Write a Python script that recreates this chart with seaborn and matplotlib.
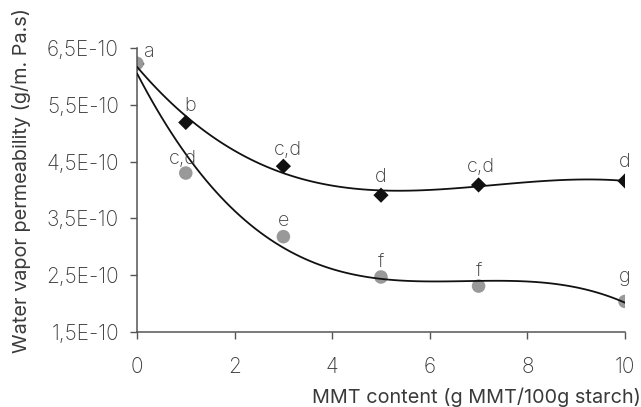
import matplotlib
matplotlib.use("Agg")
import matplotlib.pyplot as plt
import seaborn as sns
import pandas as pd
import numpy as np

# MMT content (g MMT/100g starch)
mmt = [0, 1, 3, 5, 7, 10]
# water vapor permeability, two film series (g/m.Pa.s)
wvp_diamond = [6.22e-10, 5.19e-10, 4.42e-10, 3.91e-10, 4.09e-10, 4.16e-10]
wvp_circle = [6.23e-10, 4.30e-10, 3.18e-10, 2.47e-10, 2.31e-10, 2.04e-10]
# significance letters
letters_diamond = ["", "b", "c,d", "d", "c,d", "d"]
letters_circle = ["a", "c,d", "e", "f", "f", "g"]

y_ticks = [1.5e-10, 2.5e-10, 3.5e-10, 4.5e-10, 5.5e-10, 6.5e-10]
y_tick_labels = ["1,5E-10", "2,5E-10", "3,5E-10", "4,5E-10", "5,5E-10", "6,5E-10"]
x_ticks = [0, 2, 4, 6, 8, 10]

df = pd.DataFrame({"mmt": mmt, "diamond": wvp_diamond, "circle": wvp_circle})

sns.set_theme(style="white")
plt.rcParams["font.family"] = ["Inter", "DejaVu Sans"]
plt.rcParams["font.weight"] = "light"
text_col = "#3a3a3a"
axis_col = "#555555"
fs = 14.3

fig = plt.figure(figsize=(6.41, 4.07), dpi=100)
ax = fig.add_axes([0.2137, 0.184, 0.7613, 0.698])

sns.scatterplot(data=df, x="mmt", y="diamond", marker="D", s=60, color="#111111",
                edgecolor="none", ax=ax, zorder=2)
sns.scatterplot(data=df, x="mmt", y="circle", marker="o", s=95, color="#999999",
                edgecolor="none", ax=ax, zorder=2)

# polynomial trend lines
for col in ["diamond", "circle"]:
    sns.regplot(data=df, x="mmt", y=col, order=3, ci=None, scatter=False,
                line_kws=dict(color="#111111", lw=1.3, zorder=3), ax=ax)

# letter offsets (points) relative to the marker
off_d = [(0, 8), (3, 8), (3, 8), (0, 9.5), (2, 9), (0, 10)]
off_c = [(5, 4.5), (-2, 6.5), (0, 8), (0, 7.5), (0, 7.5), (0, 14)]
for x, y, t, o in zip(mmt, wvp_diamond, letters_diamond, off_d):
    if t:
        ax.annotate(t, (x, y), xytext=o, textcoords="offset points", ha="center",
                    va="baseline", fontsize=fs, color=text_col)
for i, (x, y, t, o) in enumerate(zip(mmt, wvp_circle, letters_circle, off_c)):
    ax.annotate(t, (x, y), xytext=o, textcoords="offset points",
                ha="left" if i == 0 else "center", va="baseline", fontsize=fs,
                color=text_col)

ax.set_xlim(0, 10)
ax.set_ylim(1.5e-10, 6.5e-10)
ax.set_xticks(x_ticks)
ax.set_yticks(y_ticks)
ax.set_yticklabels(y_tick_labels)
ax.tick_params(axis="both", direction="out", length=5, width=1, color=axis_col,
               labelsize=15, labelcolor=text_col, bottom=True, left=True)
ax.tick_params(axis="x", pad=13)
ax.tick_params(axis="y", pad=8)

sns.despine(ax=ax)
for s in ["left", "bottom"]:
    ax.spines[s].set_color(axis_col)
    ax.spines[s].set_linewidth(1.1)

ax.set_ylabel("Water vapor permeability (g/m. Pa.s)", fontsize=fs, color=text_col)
ax.yaxis.set_label_coords(-0.217, 0.535)
ax.set_xlabel("MMT content (g MMT/100g starch)", fontsize=fs, color=text_col, loc="right")
ax.xaxis.set_label_coords(1.033, -0.195)

fig.savefig("out.png", dpi=100)
